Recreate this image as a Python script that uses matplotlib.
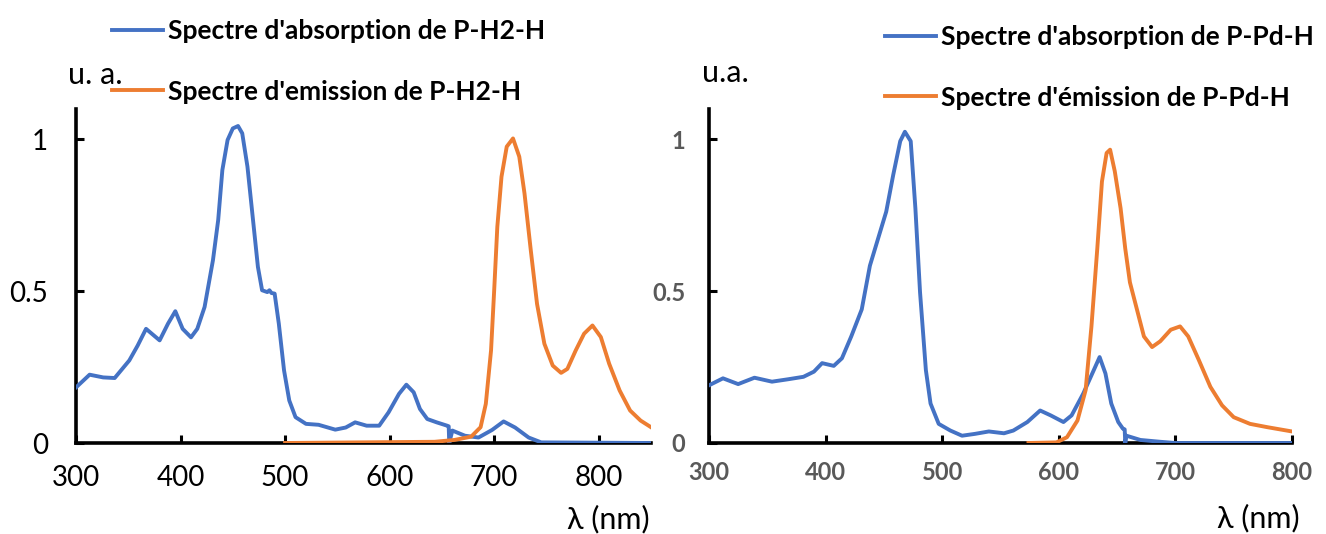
import numpy as np
import matplotlib
matplotlib.use("Agg")
import matplotlib.pyplot as plt

plt.rcParams['font.family'] = ['Lato', 'DejaVu Sans']

BLUE = '#4472C4'
ORANGE = '#ED7D31'

# --- left panel: P-H2-H ---
abs_h2_nm = [300, 313, 326, 337, 351, 359, 367, 380, 388, 395, 402, 410, 416, 423, 431,
             436, 440, 445, 450, 455, 459, 464, 469, 474, 478, 483, 485, 487, 490, 494,
             499, 504, 510, 520, 532, 548, 558, 567, 578, 590, 599, 609, 616, 623, 629,
             636, 645, 655, 656.5, 657, 660, 672, 685, 698, 709, 720, 733, 745, 850]
abs_h2 = [0.183, 0.225, 0.216, 0.214, 0.272, 0.321, 0.376, 0.338, 0.393, 0.434, 0.376,
          0.348, 0.376, 0.448, 0.602, 0.734, 0.899, 0.998, 1.036, 1.044, 1.02, 0.91, 0.745,
          0.58, 0.503, 0.497, 0.503, 0.494, 0.492, 0.393, 0.239, 0.14, 0.085, 0.063, 0.06,
          0.044, 0.051, 0.068, 0.057, 0.057, 0.101, 0.162, 0.192, 0.167, 0.112, 0.079,
          0.068, 0.057, 0.055, 0.0, 0.041, 0.024, 0.018, 0.043, 0.071, 0.051, 0.018,
          0.002, 0.0]
em_h2_nm = [500, 643, 662, 678, 687, 692, 697, 700, 703, 707, 712, 718, 724, 729, 735,
            741, 748, 756, 764, 770, 778, 786, 794, 802, 810, 820, 830, 840, 850]
em_h2 = [0.0, 0.004, 0.01, 0.021, 0.052, 0.129, 0.305, 0.503, 0.712, 0.877, 0.976, 1.003,
         0.943, 0.822, 0.635, 0.458, 0.327, 0.255, 0.231, 0.244, 0.305, 0.36, 0.387, 0.349,
         0.261, 0.173, 0.107, 0.074, 0.052]

# --- right panel: P-Pd-H ---
abs_pd_nm = [300, 312, 325, 339, 354, 368, 381, 390, 397, 407, 414, 422, 431, 438, 445,
             452, 458, 464, 468, 473, 477, 481, 486, 490, 497, 507, 517, 528, 540, 553,
             561, 573, 584, 593, 604, 611, 621, 630, 635, 640, 645, 651, 655, 656.5, 657,
             658, 670, 687, 700, 800]
abs_pd = [0.19, 0.213, 0.194, 0.215, 0.202, 0.21, 0.218, 0.235, 0.263, 0.254, 0.279,
          0.351, 0.44, 0.584, 0.673, 0.762, 0.883, 0.994, 1.025, 0.994, 0.773, 0.496, 0.24,
          0.13, 0.063, 0.041, 0.024, 0.03, 0.038, 0.032, 0.041, 0.069, 0.107, 0.091, 0.069,
          0.091, 0.163, 0.24, 0.283, 0.229, 0.13, 0.069, 0.047, 0.045, 0.0, 0.024, 0.01,
          0.004, 0.0, 0.0]
em_pd_nm = [574, 598, 607, 616, 623, 628, 633, 637, 641, 644, 648, 653, 657, 661, 667,
            673, 680, 687, 696, 704, 711, 720, 730, 740, 750, 764, 779, 800]
em_pd = [0.0, 0.002, 0.019, 0.074, 0.174, 0.384, 0.64, 0.861, 0.955, 0.966, 0.895, 0.773,
         0.64, 0.529, 0.44, 0.351, 0.316, 0.335, 0.373, 0.384, 0.351, 0.274, 0.185, 0.124,
         0.085, 0.063, 0.052, 0.038]

W, H = 1326, 534
fig = plt.figure(figsize=(W / 100, H / 100), dpi=100)


def style_axes(ax, xmax, tick_color, tick_weight, tick_size, xpad, ypad):
    ax.set_xlim(300, xmax)
    ax.set_ylim(0, 1.1)
    ax.set_xticks(np.arange(300, xmax + 1, 100))
    ax.set_yticks([0, 0.5, 1])
    ax.set_yticklabels(['0', '0.5', '1'])
    for s in ['top', 'right']:
        ax.spines[s].set_visible(False)
    for s in ['left', 'bottom']:
        ax.spines[s].set_linewidth(2.6)
    ax.tick_params(direction='in', length=6, width=2.2, labelsize=tick_size,
                   labelcolor=tick_color)
    ax.tick_params(axis='x', pad=xpad)
    ax.tick_params(axis='y', pad=ypad)
    for lab in ax.get_xticklabels() + ax.get_yticklabels():
        lab.set_fontweight(tick_weight)


leg_kw = dict(loc='upper left', frameon=False, borderaxespad=0, borderpad=0,
              handlelength=1.93, handletextpad=0.2, labelspacing=1.39,
              prop={'weight': 'bold', 'size': 19})

ax1 = fig.add_axes([76 / W, 1 - 443 / H, (651 - 76) / W, (443 - 109) / H])
l1, = ax1.plot(abs_h2_nm, abs_h2, color=BLUE, lw=2.8, zorder=3)
l2, = ax1.plot(em_h2_nm, em_h2, color=ORANGE, lw=2.8, zorder=3)
style_axes(ax1, 850, 'black', 'normal', 20, 16, 20)
fig.legend([l1, l2], ["Spectre d'absorption de P-H2-H", "Spectre d'emission de P-H2-H"],
           bbox_to_anchor=(112 / W, 1 - 19 / H), **leg_kw)
fig.text(68 / W, 1 - 75 / H, 'u. a.', fontsize=22, va='center', ha='left')
fig.text(650 / W, 1 - 519 / H, 'λ (nm)', fontsize=22, va='center', ha='right')

ax2 = fig.add_axes([709 / W, 1 - 443 / H, (1292 - 709) / W, (443 - 109) / H])
l3, = ax2.plot(abs_pd_nm, abs_pd, color=BLUE, lw=2.8, zorder=3)
l4, = ax2.plot(em_pd_nm, em_pd, color=ORANGE, lw=2.8, zorder=3)
style_axes(ax2, 800, '#595959', 'bold', 17, 13, 17)
fig.legend([l3, l4], ["Spectre d'absorption de P-Pd-H", "Spectre d'émission de P-Pd-H"],
           bbox_to_anchor=(885 / W, 1 - 25 / H), **leg_kw)
fig.text(702 / W, 1 - 73 / H, 'u.a.', fontsize=22, va='center', ha='left')
fig.text(1300 / W, 1 - 518 / H, 'λ (nm)', fontsize=22, va='center', ha='right')

fig.savefig('out.png', dpi=100)
